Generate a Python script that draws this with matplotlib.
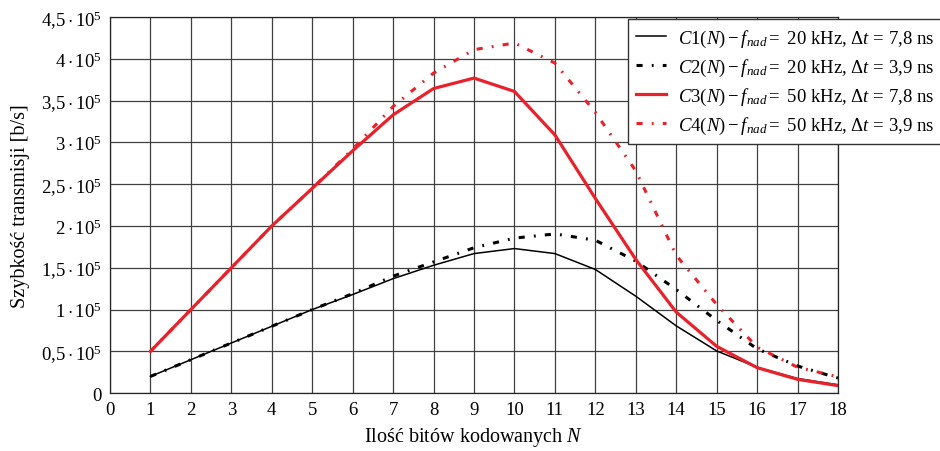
import matplotlib
matplotlib.use("Agg")
import matplotlib.pyplot as plt
import numpy as np

plt.rcParams['font.family'] = ['Liberation Serif', 'DejaVu Serif']
plt.rcParams['mathtext.fontset'] = 'custom'
plt.rcParams['mathtext.rm'] = 'Liberation Serif'
plt.rcParams['mathtext.it'] = 'Liberation Serif:italic'
plt.rcParams['mathtext.bf'] = 'Liberation Serif:bold'

N = np.arange(1, 19)
c1 = [20000, 40000, 60000, 80000, 100000, 118000, 137000, 153000, 167000,
      173000, 167000, 148000, 116000, 80500, 50500, 31000, 17500, 10000]
c2 = [20000, 40000, 60000, 80000, 100000, 119000, 140000, 157000, 174000,
      185500, 190500, 183000, 158000, 124000, 87000, 53000, 32500, 18000]
c3 = [50000, 100000, 150000, 200000, 245000, 290000, 333000, 364500, 377000,
      361000, 309000, 233000, 160000, 97000, 56000, 30500, 16500, 9000]
c4 = [50000, 100000, 150000, 200000, 245000, 292000, 343000, 383000, 411000,
      419000, 395000, 336000, 266000, 165000, 106000, 55000, 31000, 19500]

labels = [r'$C1(N) - f_{nad} = $ 20 kHz, $\Delta t$ = 7,8 ns',
          r'$C2(N) - f_{nad} = $ 20 kHz, $\Delta t$ = 3,9 ns',
          r'$C3(N) - f_{nad} = $ 50 kHz, $\Delta t$ = 7,8 ns',
          r'$C4(N) - f_{nad} = $ 50 kHz, $\Delta t$ = 3,9 ns']

yticks = np.arange(0, 450001, 50000)
ytick_labels = ['0', r'$0{,}5\cdot10^5$', r'$1\cdot10^5$', r'$1{,}5\cdot10^5$',
                r'$2\cdot10^5$', r'$2{,}5\cdot10^5$', r'$3\cdot10^5$',
                r'$3{,}5\cdot10^5$', r'$4\cdot10^5$', r'$4{,}5\cdot10^5$']

red = '#e8212b'

fig = plt.figure(figsize=(9.4, 4.52), dpi=100)
ax = fig.add_axes([0.117, 0.128, 0.7745, 0.832])

ax.plot(N, c1, color='black', lw=1.1, label=labels[0])
ax.plot(N, c2, color='black', lw=2.2, dashes=(2.0, 3.0, 0.6, 3.0), label=labels[1])
ax.plot(N, c3, color=red, lw=2.3, label=labels[2])
ax.plot(N, c4, color=red, lw=2.2, dashes=(2.0, 3.0, 0.6, 3.0), label=labels[3])

ax.set_xlim(0, 18)
ax.set_ylim(0, 450000)
ax.set_xticks(np.arange(0, 19))
ax.set_yticks(yticks)
ax.set_yticklabels(ytick_labels)
ax.tick_params(length=0, labelsize=13.5, pad=6)
ax.grid(True, color='0.25', lw=0.9)
ax.set_axisbelow(True)
for s in ax.spines.values():
    s.set_color('0.15')
    s.set_linewidth(0.9)

ax.set_xlabel(r'Ilość bitów kodowanych $N$', fontsize=14.5, labelpad=5)
ax.set_ylabel('Szybkość transmisji [b/s]', fontsize=14.5, labelpad=8)

leg = fig.legend(loc='upper left', bbox_to_anchor=(628 / 940, 1 - 20 / 452),
                 fontsize=13.5, frameon=True, fancybox=False, handlelength=1.6,
                 borderpad=0.45, labelspacing=0.42, handletextpad=0.6,
                 borderaxespad=0)
leg.get_frame().set_edgecolor('0.2')
leg.get_frame().set_linewidth(1.0)
leg.get_frame().set_alpha(1)

fig.savefig('out.png', dpi=100)
